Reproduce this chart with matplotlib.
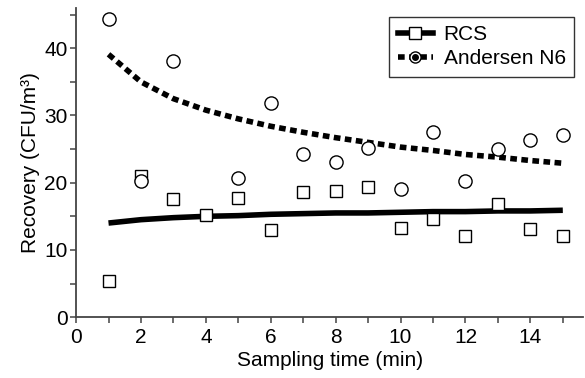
import matplotlib
matplotlib.use("Agg")
import matplotlib.pyplot as plt
from matplotlib.lines import Line2D
from matplotlib.ticker import MultipleLocator

plt.rcParams['font.family'] = ['Liberation Sans', 'DejaVu Sans']

# sampling times (min)
time = [1, 2, 3, 4, 5, 6, 7, 8, 9, 10, 11, 12, 13, 14, 15]

# measured recovery (CFU/m3)
rcs = [5.4, 21.0, 17.6, 15.2, 17.7, 13.0, 18.6, 18.8, 19.4, 13.2, 14.6, 12.0, 16.8, 13.1, 12.1]
andersen_t = [1, 2, 3, 5, 6, 7, 8, 9, 10, 11, 12, 13, 14, 15]
andersen = [44.3, 20.2, 38.1, 20.7, 31.9, 24.3, 23.1, 25.2, 19.1, 27.6, 20.3, 25.0, 26.3, 27.1]

# trend curves
rcs_fit = [14.0, 14.5, 14.8, 15.0, 15.1, 15.3, 15.4, 15.5, 15.5, 15.6, 15.7, 15.7, 15.8, 15.8, 15.9]
andersen_fit = [39.1, 35.0, 32.5, 30.8, 29.5, 28.4, 27.5, 26.7, 26.0, 25.3, 24.8, 24.2, 23.8, 23.3, 22.9]

fig = plt.figure(figsize=(5.85, 3.78), dpi=100)
ax = fig.add_axes([0.130, 0.161, 0.867, 0.818])

ax.plot(time, rcs_fit, color='black', lw=4.0, solid_capstyle='butt', zorder=2)
ax.plot(time, andersen_fit, color='black', lw=4.0, dashes=(1.2, 0.8),
        dash_capstyle='butt', zorder=2)
ax.plot(time, rcs, ls='none', marker='s', ms=9, mfc='white', mec='black', mew=1.0, zorder=3)
ax.plot(andersen_t, andersen, ls='none', marker='o', ms=9.5, mfc='white', mec='black', mew=1.0, zorder=3)

ax.set_xlim(0, 15.63)
ax.set_ylim(0, 46)
ax.xaxis.set_major_locator(MultipleLocator(2))
ax.xaxis.set_minor_locator(MultipleLocator(1))
ax.yaxis.set_major_locator(MultipleLocator(10))
ax.yaxis.set_minor_locator(MultipleLocator(5))

for s in ['top', 'right']:
    ax.spines[s].set_visible(False)
for s in ['left', 'bottom']:
    ax.spines[s].set_color('#444444')
    ax.spines[s].set_linewidth(1.3)
ax.tick_params(which='both', direction='out', length=4, width=1.1, color='#444444',
               labelsize=15, pad=2)
ax.tick_params(axis='x', which='both', pad=3.5)

ax.set_xlabel('Sampling time (min)', fontsize=15, labelpad=3)
ax.set_ylabel('Recovery (CFU/m³)', fontsize=15, labelpad=3)

h_rcs = Line2D([], [], color='black', lw=4.0, marker='s', ms=8, mfc='white', mec='black')
h_and = (Line2D([], [], color='black', lw=4.0, dashes=(1.2, 0.8), marker='o', ms=8,
                mfc='white', mec='black'),
         Line2D([], [], ls='none', marker='o', ms=4, color='black'))
leg = ax.legend([h_rcs, h_and], ['RCS', 'Andersen N6'], loc='upper right',
                bbox_to_anchor=(0.99, 0.985), fontsize=15, frameon=True, fancybox=False,
                edgecolor='black', handlelength=1.7, handletextpad=0.5,
                borderpad=0.4, labelspacing=0.25, borderaxespad=0.2)
leg.get_frame().set_linewidth(1.0)

fig.savefig('out.png', dpi=100)
